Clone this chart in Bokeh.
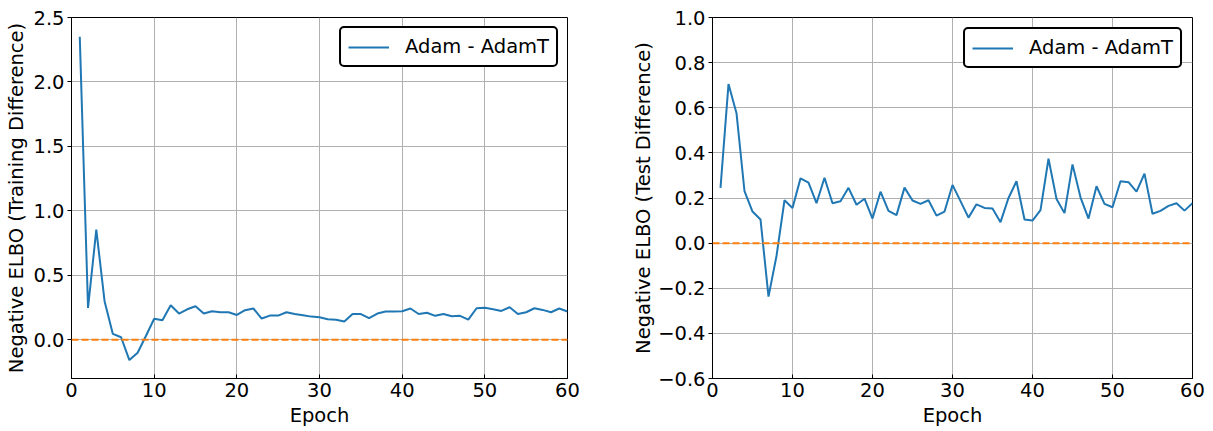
from bokeh.plotting import figure
from bokeh.layouts import row
from bokeh.models import Range1d, FixedTicker, Span, CustomJSTickFormatter, Legend, LegendItem
from bokeh.embed import file_html
from bokeh.resources import INLINE

epochs = list(range(1, 61))

train_diff = [2.35, 0.248, 0.854, 0.30, 0.046, 0.02, -0.157, -0.10, 0.03, 0.163,
              0.152, 0.268, 0.204, 0.237, 0.26, 0.204, 0.222, 0.214, 0.214, 0.193,
              0.23, 0.243, 0.165, 0.188, 0.188, 0.214, 0.20, 0.19, 0.18, 0.175,
              0.16, 0.155, 0.142, 0.20, 0.20, 0.168, 0.204, 0.22, 0.22, 0.222,
              0.243, 0.20, 0.21, 0.186, 0.20, 0.183, 0.186, 0.157, 0.245, 0.248,
              0.237, 0.224, 0.253, 0.20, 0.214, 0.245, 0.232, 0.214, 0.243, 0.22]

test_diff = [0.245, 0.705, 0.576, 0.23, 0.14, 0.105, -0.237, -0.057, 0.19, 0.156,
             0.287, 0.268, 0.177, 0.29, 0.177, 0.186, 0.245, 0.17, 0.197, 0.109,
             0.228, 0.143, 0.124, 0.246, 0.189, 0.174, 0.19, 0.122, 0.14, 0.258,
             0.186, 0.113, 0.172, 0.156, 0.153, 0.093, 0.20, 0.274, 0.105, 0.10,
             0.146, 0.374, 0.196, 0.133, 0.349, 0.203, 0.109, 0.252, 0.174, 0.159,
             0.274, 0.27, 0.228, 0.308, 0.13, 0.143, 0.165, 0.177, 0.144, 0.177]

x_ticks = [0, 10, 20, 30, 40, 50, 60]
left_y_ticks = [0.0, 0.5, 1.0, 1.5, 2.0, 2.5]
right_y_ticks = [-0.6, -0.4, -0.2, 0.0, 0.2, 0.4, 0.6, 0.8, 1.0]

series_label = "Adam - AdamT"
x_label = "Epoch"
left_y_label = "Negative ELBO (Training Difference)"
right_y_label = "Negative ELBO (Test Difference)"

FONT = "DejaVu Sans"
FS = "19.5px"
BLUE = "#1f77b4"
ORANGE = "#ff7f0e"


def make_fig(width, bl, br, yr, yticks, ylabel, ydata, leg_margin, ylab_standoff):
    p = figure(width=width, height=430, output_backend="svg", toolbar_location=None,
               x_range=Range1d(0, 60), y_range=Range1d(*yr),
               min_border_left=bl, min_border_right=br, min_border_top=17, min_border_bottom=52)
    p.background_fill_color = "white"
    p.border_fill_color = "white"
    p.outline_line_color = "black"
    p.outline_line_alpha = 1
    p.outline_line_width = 1
    p.xaxis.ticker = FixedTicker(ticks=x_ticks)
    p.yaxis.ticker = FixedTicker(ticks=yticks)
    p.yaxis.formatter = CustomJSTickFormatter(code="return tick.toFixed(1).replace('-', '\u2212');")
    for ax in (p.xaxis[0], p.yaxis[0]):
        ax.axis_line_color = "black"
        ax.major_tick_line_color = "black"
        ax.minor_tick_line_color = None
        ax.major_label_text_font = FONT
        ax.major_label_text_font_size = FS
        ax.major_label_text_color = "black"
        ax.axis_label_text_font = FONT
        ax.axis_label_text_font_size = FS
        ax.axis_label_text_font_style = "normal"
        ax.axis_label_text_color = "black"
    p.xaxis.major_tick_in = 4
    p.xaxis.major_tick_out = 0
    p.xaxis.major_label_standoff = 4
    p.xaxis.axis_label_standoff = 4
    p.yaxis.major_tick_in = 0
    p.yaxis.major_tick_out = 4
    p.yaxis.major_label_standoff = 3
    p.yaxis.axis_label_standoff = ylab_standoff
    p.xaxis.axis_label = x_label
    p.yaxis.axis_label = ylabel
    p.grid.grid_line_color = "#b0b0b0"
    p.grid.grid_line_width = 1
    p.xgrid.ticker = FixedTicker(ticks=x_ticks)
    p.ygrid.ticker = FixedTicker(ticks=yticks)

    r = p.line(epochs, ydata, line_color=BLUE, line_width=2)
    p.add_layout(Span(location=0, dimension="width", line_color=ORANGE,
                      line_width=2, line_dash="7 3"))
    leg = Legend(items=[LegendItem(label=series_label, renderers=[r])],
                 location="top_right", margin=leg_margin, padding=7, spacing=0,
                 label_standoff=16, glyph_width=41, glyph_height=20, label_height=20,
                 label_text_font=FONT, label_text_font_size=FS, label_text_color="black",
                 border_line_color="black", border_line_alpha=1.0, border_line_width=2,
                 background_fill_alpha=1.0)
    if "border_radius" in Legend.properties():
        leg.border_radius = 5
    p.add_layout(leg)
    return p


p1 = make_fig(600, 71, 33, (-0.3, 2.5), left_y_ticks, left_y_label, train_diff, 9, 2)
p2 = make_fig(605, 112, 13, (-0.6, 1.0), right_y_ticks, right_y_label, test_diff, 10, 0)

layout = row(p1, p2)
open("out.html", "w").write(file_html(layout, INLINE))
